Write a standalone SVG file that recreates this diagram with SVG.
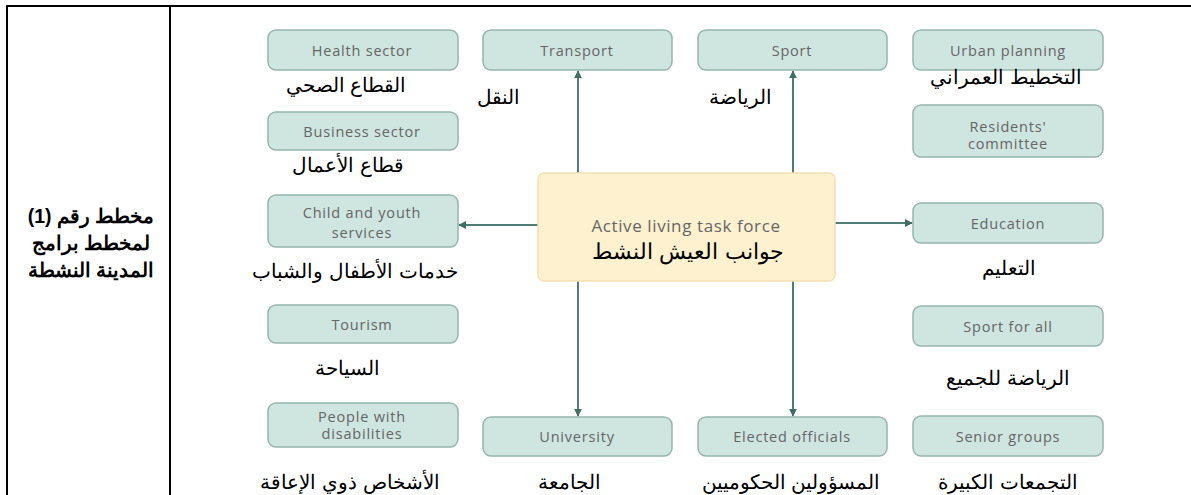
<svg xmlns="http://www.w3.org/2000/svg" width="1191" height="495" viewBox="0 0 1191 495">
<style>
.box{fill:#cfe5df;stroke:#97b5ad;stroke-width:1.5}
.core{fill:#fdf1cf;stroke:#f2e0b4;stroke-width:1.5}
.en{font-family:"Open Sans","Liberation Sans",sans-serif;font-size:14.5px;letter-spacing:0.8px;fill:#666;text-anchor:middle}
.ar{font-family:"Liberation Sans","Noto Sans",sans-serif;font-size:20px;fill:#000;text-anchor:middle}
.title{font-family:"Liberation Sans","Noto Sans",sans-serif;font-size:19.5px;font-weight:bold;fill:#000;text-anchor:middle}
.conn{stroke:#4f7d73;stroke-width:2;fill:none;marker-end:url(#arr)}
.frame{stroke:#000;stroke-width:2;fill:none}
</style>
<defs>
<marker id="arr" viewBox="0 0 10 10" refX="9" refY="5" markerWidth="4" markerHeight="4" orient="auto" markerUnits="strokeWidth">
<path d="M0,0 L10,5 L0,10 z" fill="#3f6e64"/>
</marker>
</defs>
<rect width="1191" height="495" fill="#fff"/>
<g id="frame">
<line class="frame" x1="6" y1="6" x2="1191" y2="6"/>
<line class="frame" x1="7" y1="5" x2="7" y2="495"/>
<line class="frame" x1="170" y1="5" x2="170" y2="495"/>
</g>
<g id="title">
<text class="title" x="91" y="223">مخطط رقم (1)</text>
<text class="title" x="91" y="250">لمخطط برامج</text>
<text class="title" x="91" y="277">المدينة النشطة</text>
</g>
<g id="connectors">
<line class="conn" x1="578" y1="173" x2="578" y2="71"/>
<line class="conn" x1="793" y1="173" x2="793" y2="71"/>
<line class="conn" x1="538" y1="225" x2="459" y2="225"/>
<line class="conn" x1="835" y1="223" x2="912" y2="223"/>
<line class="conn" x1="578" y1="281" x2="578" y2="416"/>
<line class="conn" x1="793" y1="281" x2="793" y2="416"/>
</g>
<g id="core">
<rect class="core" x="538" y="173" width="297" height="108" rx="6"/>
<text class="en" x="686" y="232" style="font-size:17px;letter-spacing:0.6px">Active living task force</text>
<text class="ar" x="688" y="259" style="font-size:22px">جوانب العيش النشط</text>
</g>
<g id="health">
<rect class="box" x="268" y="30" width="190" height="40" rx="8"/>
<text class="en" x="362" y="56">Health sector</text>
<text class="ar" x="346" y="92">القطاع الصحي</text>
</g>
<g id="transport">
<rect class="box" x="483" y="30" width="189" height="40" rx="8"/>
<text class="en" x="577" y="56">Transport</text>
<text class="ar" x="498" y="104">النقل</text>
</g>
<g id="sport">
<rect class="box" x="698" y="30" width="189" height="40" rx="8"/>
<text class="en" x="792" y="56">Sport</text>
<text class="ar" x="740" y="104">الرياضة</text>
</g>
<g id="urban">
<rect class="box" x="913" y="30" width="190" height="40" rx="8"/>
<text class="en" x="1008" y="56">Urban planning</text>
<text class="ar" x="1006" y="84">التخطيط العمراني</text>
</g>
<g id="business">
<rect class="box" x="268" y="112" width="190" height="38" rx="8"/>
<text class="en" x="362" y="137">Business sector</text>
<text class="ar" x="348" y="172">قطاع الأعمال</text>
</g>
<g id="residents">
<rect class="box" x="913" y="105" width="190" height="52" rx="8"/>
<text class="en" x="1008" y="132">Residents'</text>
<text class="en" x="1008" y="149">committee</text>
</g>
<g id="child">
<rect class="box" x="268" y="195" width="190" height="52" rx="8"/>
<text class="en" x="362" y="218">Child and youth</text>
<text class="en" x="362" y="238">services</text>
<text class="ar" x="355" y="278">خدمات الأطفال والشباب</text>
</g>
<g id="education">
<rect class="box" x="913" y="203" width="190" height="40" rx="8"/>
<text class="en" x="1008" y="229">Education</text>
<text class="ar" x="1009" y="275">التعليم</text>
</g>
<g id="tourism">
<rect class="box" x="268" y="305" width="190" height="38" rx="8"/>
<text class="en" x="362" y="330">Tourism</text>
<text class="ar" x="347" y="375">السياحة</text>
</g>
<g id="sportforall">
<rect class="box" x="913" y="306" width="190" height="40" rx="8"/>
<text class="en" x="1008" y="332">Sport for all</text>
<text class="ar" x="1008" y="385">الرياضة للجميع</text>
</g>
<g id="disabilities">
<rect class="box" x="268" y="403" width="190" height="44" rx="8"/>
<text class="en" x="362" y="422">People with</text>
<text class="en" x="362" y="439">disabilities</text>
<text class="ar" x="350" y="489">الأشخاص ذوي الإعاقة</text>
</g>
<g id="university">
<rect class="box" x="483" y="417" width="189" height="39" rx="8"/>
<text class="en" x="577" y="442">University</text>
<text class="ar" x="569" y="489">الجامعة</text>
</g>
<g id="elected">
<rect class="box" x="698" y="417" width="189" height="39" rx="8"/>
<text class="en" x="792" y="442">Elected officials</text>
<text class="ar" x="791" y="489">المسؤولين الحكوميين</text>
</g>
<g id="senior">
<rect class="box" x="913" y="416" width="190" height="40" rx="8"/>
<text class="en" x="1008" y="442">Senior groups</text>
<text class="ar" x="1008" y="489">التجمعات الكبيرة</text>
</g>
</svg>
